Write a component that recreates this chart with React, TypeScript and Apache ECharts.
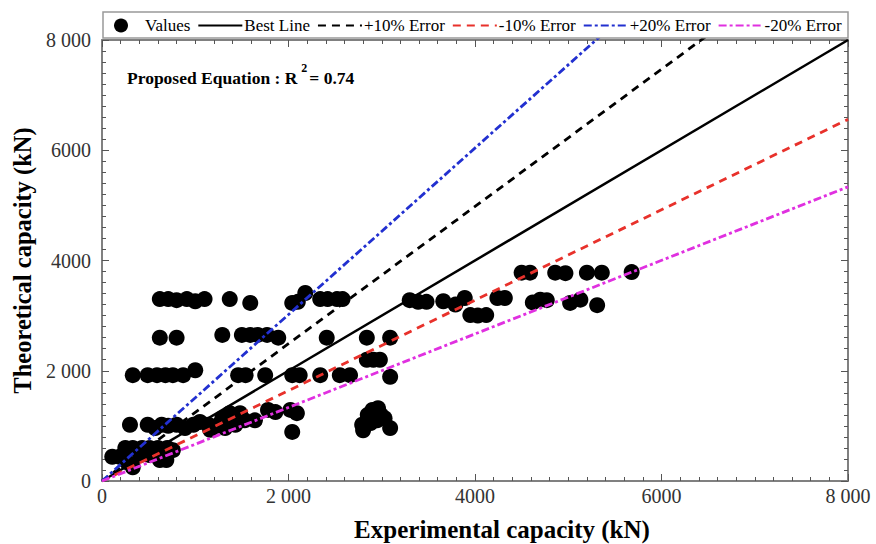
import React, { useEffect, useRef } from "react";
import * as echarts from "echarts";

const tickValues = [0, 2000, 4000, 6000, 8000];
const tickLabels = ["0", "2 000", "4000", "6000", "8 000"];

const points: number[][] = [
  // ~3300 row
  [620, 3300], [710, 3300], [800, 3280], [910, 3300], [1000, 3260], [1100, 3300],
  [1370, 3300], [1590, 3230], [2040, 3230], [2100, 3250], [2180, 3410], [2340, 3300],
  [2420, 3300], [2520, 3300], [2580, 3300], [3300, 3280], [3390, 3250], [3480, 3250],
  [3660, 3260], [3790, 3200], [3890, 3320], [3950, 3010], [4030, 3000], [4120, 3010],
  [4240, 3320], [4320, 3320], [4500, 3780], [4590, 3780], [4620, 3240], [4700, 3290],
  [4770, 3280], [4860, 3780], [4970, 3770], [5020, 3230], [5130, 3290], [5200, 3780],
  [5310, 3190], [5360, 3780], [5680, 3790],
  // ~2600 row
  [620, 2600], [800, 2600], [1290, 2650], [1500, 2650], [1590, 2650], [1670, 2650],
  [1770, 2650], [1890, 2600], [2410, 2600], [2840, 2600], [3090, 2600],
  // ~2200
  [2840, 2200], [2910, 2200], [2980, 2200],
  // ~1900 row
  [330, 1920], [490, 1920], [590, 1920], [680, 1920], [760, 1920], [870, 1920],
  [1000, 2010], [1460, 1920], [1540, 1920], [1750, 1920], [2040, 1920], [2120, 1920],
  [2340, 1920], [2550, 1920], [2660, 1920], [3090, 1890],
  // lower band
  [300, 1020], [490, 1020], [570, 960], [640, 1020], [710, 1000], [800, 1020],
  [890, 960], [980, 1020], [1050, 1070], [1140, 1020], [1230, 1000], [1290, 1140],
  [1370, 1230], [1480, 1230], [1160, 930], [1320, 960], [1430, 1020], [1530, 1100],
  [1640, 1100], [1780, 1290], [1860, 1250], [2020, 1290], [2090, 1230], [2040, 890],
  [250, 600], [330, 600], [430, 600], [510, 600], [600, 600], [700, 600], [760, 560],
  [110, 440], [190, 440], [620, 380], [690, 380], [330, 250], [270, 340], [410, 470],
  [510, 470],
  // ~2800-3100 low cluster
  [2790, 1020], [2800, 920], [2850, 1200], [2900, 1290], [2960, 1320], [2990, 1200],
  [3030, 1140], [3090, 960], [2950, 1100], [2880, 1050],
];

const lineNames = ["Best Line", "+10% Error", "-10% Error", "+20% Error", "-20% Error"];
const lineSlopes = [1, 1.245, 0.82, 1.51, 0.667];
const lineColors = ["#000000", "#000000", "#e8312b", "#2230d0", "#e030e0"];
const lineDashes: (string | number[])[] = ["solid", [8, 6], [8, 6], [8, 3, 3, 3], [8, 3, 3, 3]];

const FONT = "Liberation Serif, Times New Roman, serif";

function labelFor(v: number) {
  const i = tickValues.indexOf(v);
  return i >= 0 ? tickLabels[i] : "";
}

function measure(text: string, font: string) {
  const c = document.createElement("canvas").getContext("2d");
  if (!c) return text.length * 8;
  c.font = font;
  return c.measureText(text).width;
}

export default function App() {
  const ref = useRef<HTMLDivElement>(null);
  useEffect(() => {
    if (!ref.current) return;
    const chart = echarts.init(ref.current, undefined, { renderer: "svg" });
    const axisBase = (position: string, showLabel: boolean, margin: number) => ({
      type: "value",
      min: 0,
      max: 8000,
      interval: 2000,
      position,
      axisLine: { show: true, onZero: false, lineStyle: { color: "#808080", width: 2 } },
      axisTick: { show: true, inside: true, length: 7, lineStyle: { color: "#555", width: 1 } },
      minorTick: { show: true, splitNumber: 10, length: 4, lineStyle: { color: "#555", width: 1 } },
      splitLine: { show: false },
      axisLabel: {
        show: showLabel,
        formatter: (v: number) => labelFor(v),
        fontFamily: FONT,
        fontSize: 20,
        color: "#333",
        margin,
      },
    });
    const lineSeries = lineNames.map((name, i) => ({
      name,
      type: "line",
      symbol: "none",
      clip: true,
      z: 3,
      data: [
        [0, 0],
        [8000, 8000 * lineSlopes[i]],
      ],
      lineStyle: { color: lineColors[i], width: i === 0 ? 2.5 : 2.8, type: lineDashes[i] },
      itemStyle: { color: lineColors[i] },
    }));

    const mainFont = `bold 17.5px ${FONT}`;
    const supFont = `bold 12px ${FONT}`;
    const t1 = "Proposed Equation : R";
    const t3 = "= 0.74";
    const x1 = 127;
    const x2 = x1 + measure(t1, mainFont) + 4;
    const x3 = x2 + measure("2", supFont) + 2;

    chart.setOption({
      animation: false,
      grid: { left: 102, right: 28, top: 40, bottom: 63, show: false },
      legend: {
        top: 12,
        left: 109,
        itemWidth: 44,
        itemHeight: 14,
        itemGap: 7,
        textStyle: { fontFamily: FONT, fontSize: 17, color: "#000", padding: [0, 0, 0, -3] },
        data: [
          { name: "Values", icon: "circle", itemStyle: { color: "#000", opacity: 1 } },
          ...lineNames.map((n) => ({ name: n, itemStyle: { opacity: 0 } })),
        ],
      },
      graphic: [
        {
          type: "rect",
          shape: { x: 103, y: 12, width: 745, height: 26 },
          style: { fill: "none", stroke: "#999", lineWidth: 1.5 },
          silent: true,
        },
        {
          type: "text",
          x: x1,
          y: 69,
          style: { text: t1, font: mainFont, fill: "#000" },
        },
        {
          type: "text",
          x: x2,
          y: 62,
          style: { text: "2", font: supFont, fill: "#000" },
        },
        {
          type: "text",
          x: x3,
          y: 69,
          style: { text: t3, font: mainFont, fill: "#000" },
        },
        {
          type: "text",
          x: 502,
          y: 529,
          style: {
            text: "Experimental capacity (kN)",
            font: `bold 25px ${FONT}`,
            fill: "#000",
            textAlign: "center",
            textVerticalAlign: "middle",
            verticalAlign: "middle",
          },
        },
      ],
      xAxis: [
        { ...axisBase("bottom", true, 5) },
        { ...axisBase("top", false, 5) },
      ],
      yAxis: [
        {
          ...axisBase("left", true, 11),
          name: "Theoretical capacity (kN)",
          nameLocation: "middle",
          nameGap: 63,
          nameTextStyle: { fontFamily: FONT, fontSize: 24.5, fontWeight: "bold", color: "#000" },
        },
        { ...axisBase("right", false, 11) },
      ],
      series: [
        {
          name: "Values",
          type: "scatter",
          symbol: "circle",
          symbolSize: 16,
          z: 2,
          itemStyle: { color: "#000", opacity: 1 },
          data: points,
        },
        ...lineSeries,
      ],
    });
    return () => chart.dispose();
  }, []);
  return <div ref={ref} style={{ width: 876, height: 544, position: "absolute", left: 0, top: 0 }} />;
}
